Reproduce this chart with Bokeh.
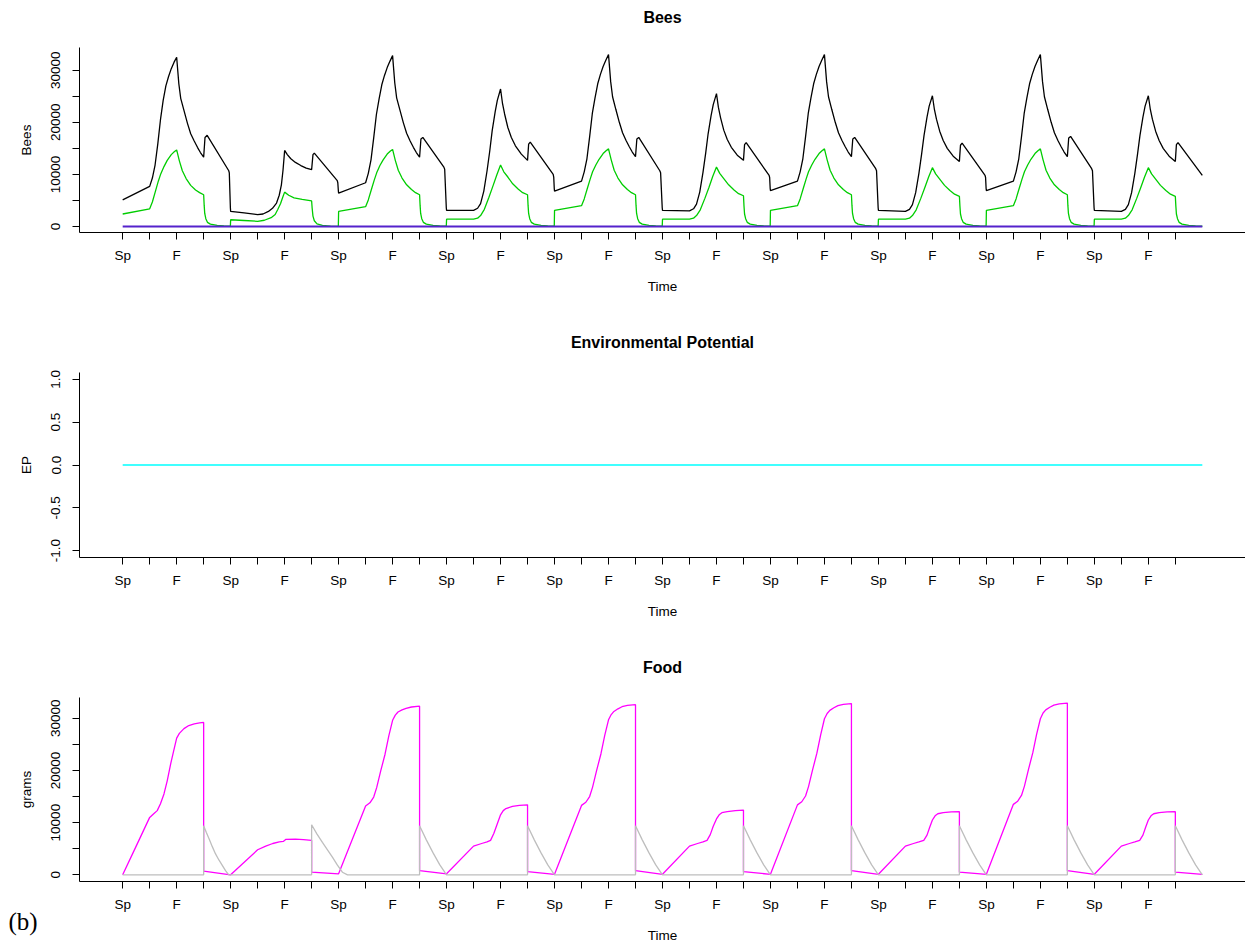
from bokeh.plotting import figure
from bokeh.layouts import column
from bokeh.models import FixedTicker, Label, Range1d, LinearAxis
from bokeh.embed import file_html
from bokeh.resources import INLINE

# ---------------- data ----------------
season_labels = ["Sp", "", "F", ""]
season_ticks = list(range(40))

bees_ticks = [0, 5000, 10000, 15000, 20000, 25000, 30000]
bees_tick_labels = ["0", "", "10000", "", "20000", "", "30000"]
ep_ticks = [-1.0, -0.5, 0.0, 0.5, 1.0]
ep_tick_labels = ["-1.0", "-0.5", "0.0", "0.5", "1.0"]

# total bees (black)
total_t = [
    0, 1, 1.1, 1.2, 1.3, 1.4, 1.5, 1.6, 1.7, 1.8, 1.9, 2, 2.08, 2.15, 2.27, 2.4, 2.52, 2.65, 2.77, 2.88, 3, 3.05, 3.13, 3.93, 3.95, 3.99,
    4, 4.5, 5, 5.2, 5.4, 5.55, 5.7, 5.8, 5.88, 5.94, 5.98, 6, 6.1, 6.23, 6.4, 6.6, 6.8, 7, 7.05, 7.1, 7.95, 7.97, 7.99,
    8, 9, 9.1, 9.2, 9.3, 9.4, 9.5, 9.6, 9.7, 9.8, 9.9, 10, 10.08, 10.15, 10.27, 10.4, 10.52, 10.65, 10.77, 10.88, 11, 11.05, 11.12, 11.9, 11.93, 11.99,
    12, 12.5, 13, 13.15, 13.26, 13.38, 13.5, 13.6, 13.69, 13.8, 13.88, 14, 14.07, 14.15, 14.27, 14.4, 14.55, 14.77, 15, 15.04, 15.1, 15.95, 15.97, 15.99,
    16, 17, 17.1, 17.2, 17.3, 17.4, 17.5, 17.6, 17.7, 17.8, 17.9, 18, 18.08, 18.15, 18.27, 18.4, 18.52, 18.65, 18.77, 18.88, 19, 19.05, 19.12, 19.9, 19.93, 19.99,
    20, 20.5, 21, 21.15, 21.26, 21.38, 21.5, 21.6, 21.69, 21.8, 21.88, 22, 22.07, 22.15, 22.27, 22.4, 22.55, 22.77, 23, 23.04, 23.1, 23.95, 23.97, 23.99,
    24, 25, 25.1, 25.2, 25.3, 25.4, 25.5, 25.6, 25.7, 25.8, 25.9, 26, 26.08, 26.15, 26.27, 26.4, 26.52, 26.65, 26.77, 26.88, 27, 27.05, 27.12, 27.9, 27.93, 27.99,
    28, 28.5, 29, 29.15, 29.26, 29.38, 29.5, 29.6, 29.69, 29.8, 29.88, 30, 30.07, 30.15, 30.27, 30.4, 30.55, 30.77, 31, 31.04, 31.1, 31.95, 31.97, 31.99,
    32, 33, 33.1, 33.2, 33.3, 33.4, 33.5, 33.6, 33.7, 33.8, 33.9, 34, 34.08, 34.15, 34.27, 34.4, 34.52, 34.65, 34.77, 34.88, 35, 35.05, 35.12, 35.9, 35.93, 35.99,
    36, 36.5, 37, 37.15, 37.26, 37.38, 37.5, 37.6, 37.69, 37.8, 37.88, 38, 38.07, 38.15, 38.27, 38.4, 38.55, 38.77, 39, 39.04, 39.1, 40,
]
total_bees = [
    5100, 7700, 9300, 11800, 15800, 20500, 24200, 27000, 28800, 30300, 31500, 32500, 27400, 24600, 22300, 19800, 17800, 16400, 15200, 14200, 13300, 17100, 17500, 10700, 10300, 3600,
    2900, 2600, 2300, 2400, 2900, 3500, 4500, 6000, 8000, 10800, 13300, 14600, 13800, 13000, 12300, 11700, 11200, 10900, 13800, 14100, 8800, 8400, 6900,
    6400, 8400, 10200, 12800, 17000, 21500, 24500, 27200, 29000, 30500, 31700, 32800, 27600, 24700, 22400, 19900, 17900, 16400, 15200, 14200, 13300, 16800, 17100, 11400, 11000, 3600,
    3100, 3100, 3100, 3500, 4400, 6800, 10700, 14500, 18400, 22000, 24200, 26400, 23700, 21600, 19000, 17100, 15500, 13900, 12700, 15800, 16200, 10000, 9500, 7300,
    6800, 8700, 10500, 13000, 17200, 21700, 24700, 27400, 29200, 30700, 31900, 33000, 27800, 24900, 22500, 20000, 18000, 16500, 15300, 14300, 13400, 16800, 17100, 10700, 10300, 3600,
    3100, 3050, 3000, 3400, 4300, 6600, 10400, 14100, 17800, 21300, 23400, 25500, 22900, 20900, 18500, 16700, 15200, 13700, 12700, 15700, 16100, 9800, 9400, 7300,
    6900, 8700, 10500, 13000, 17200, 21700, 24700, 27400, 29200, 30700, 31900, 33000, 27800, 24900, 22500, 20000, 18000, 16500, 15300, 14300, 13400, 16800, 17100, 11100, 10700, 3600,
    3100, 3000, 2900, 3300, 4200, 6500, 10200, 13900, 17500, 21000, 23100, 25100, 22600, 20600, 18300, 16500, 15000, 13500, 12500, 15600, 16000, 9800, 9400, 7300,
    6900, 8700, 10500, 13000, 17200, 21700, 24700, 27400, 29200, 30700, 31900, 33000, 27800, 24900, 22500, 20000, 18000, 16500, 15300, 14300, 13400, 17000, 17300, 11100, 10700, 3600,
    3100, 3000, 2900, 3300, 4200, 6500, 10200, 13900, 17500, 21000, 23100, 25100, 22600, 20600, 18300, 16500, 15000, 13500, 12500, 15700, 16100, 9800,
]

# adult bees (green)
green_t = [
    0, 1, 1.1, 1.22, 1.32, 1.41, 1.53, 1.65, 1.8, 1.92, 2, 2.1, 2.21, 2.35, 2.52, 2.7, 2.85, 3, 3.02, 3.04, 3.08, 3.14, 3.25, 3.5, 3.75, 3.99,
    4, 4.5, 5, 5.25, 5.5, 5.65, 5.75, 5.85, 5.93, 6, 6.15, 6.35, 6.65, 7, 7.02, 7.05, 7.1, 7.2, 7.4, 7.7, 7.99,
    8, 9, 9.1, 9.22, 9.32, 9.41, 9.53, 9.65, 9.8, 9.92, 10, 10.1, 10.21, 10.35, 10.52, 10.7, 10.85, 11, 11.02, 11.04, 11.08, 11.14, 11.25, 11.5, 11.75, 11.99,
    12, 12.5, 13, 13.15, 13.26, 13.4, 13.57, 13.72, 13.86, 14, 14.12, 14.27, 14.45, 14.65, 14.82, 15, 15.02, 15.04, 15.08, 15.14, 15.25, 15.5, 15.75, 15.99,
    16, 17, 17.1, 17.22, 17.32, 17.41, 17.53, 17.65, 17.8, 17.92, 18, 18.1, 18.21, 18.35, 18.52, 18.7, 18.85, 19, 19.02, 19.04, 19.08, 19.14, 19.25, 19.5, 19.75, 19.99,
    20, 20.5, 21, 21.15, 21.26, 21.4, 21.57, 21.72, 21.86, 22, 22.12, 22.27, 22.45, 22.65, 22.82, 23, 23.02, 23.04, 23.08, 23.14, 23.25, 23.5, 23.75, 23.99,
    24, 25, 25.1, 25.22, 25.32, 25.41, 25.53, 25.65, 25.8, 25.92, 26, 26.1, 26.21, 26.35, 26.52, 26.7, 26.85, 27, 27.02, 27.04, 27.08, 27.14, 27.25, 27.5, 27.75, 27.99,
    28, 28.5, 29, 29.15, 29.26, 29.4, 29.57, 29.72, 29.86, 30, 30.12, 30.27, 30.45, 30.65, 30.82, 31, 31.02, 31.04, 31.08, 31.14, 31.25, 31.5, 31.75, 31.99,
    32, 33, 33.1, 33.22, 33.32, 33.41, 33.53, 33.65, 33.8, 33.92, 34, 34.1, 34.21, 34.35, 34.52, 34.7, 34.85, 35, 35.02, 35.04, 35.08, 35.14, 35.25, 35.5, 35.75, 35.99,
    36, 36.5, 37, 37.15, 37.26, 37.4, 37.57, 37.72, 37.86, 38, 38.12, 38.27, 38.45, 38.65, 38.82, 39, 39.02, 39.04, 39.08, 39.14, 39.25, 39.5, 39.75, 40,
]
green_bees = [
    2400, 3400, 4700, 6900, 8700, 10100, 11500, 12700, 13800, 14400, 14700, 12600, 10700, 9200, 7900, 7000, 6500, 6100, 4000, 2500, 1500, 800, 450, 200, 100, 50,
    1300, 1150, 1000, 1200, 1700, 2300, 3300, 4400, 5600, 6600, 6000, 5500, 5200, 4900, 3500, 2000, 1100, 500, 200, 80, 30,
    2900, 3800, 5100, 7200, 8900, 10300, 11700, 12800, 13900, 14500, 14800, 12700, 10800, 9300, 8000, 7100, 6500, 6100, 4000, 2500, 1500, 800, 450, 200, 100, 50,
    1400, 1400, 1400, 1600, 2100, 3300, 5600, 7800, 9900, 11800, 10500, 9500, 8200, 7200, 6500, 6100, 4000, 2500, 1500, 800, 450, 200, 100, 50,
    3100, 4000, 5300, 7400, 9100, 10500, 11800, 12900, 14000, 14600, 14900, 12800, 10800, 9300, 8000, 7100, 6500, 6100, 4000, 2500, 1500, 800, 450, 200, 100, 50,
    1400, 1400, 1400, 1600, 2100, 3200, 5400, 7500, 9600, 11400, 10200, 9200, 8000, 7000, 6300, 5900, 3900, 2400, 1500, 800, 450, 200, 100, 50,
    3100, 4000, 5300, 7400, 9100, 10500, 11800, 12900, 14000, 14600, 14900, 12800, 10800, 9300, 8000, 7100, 6500, 6100, 4000, 2500, 1500, 800, 450, 200, 100, 50,
    1400, 1400, 1400, 1600, 2100, 3200, 5400, 7500, 9500, 11300, 10100, 9100, 7900, 6900, 6200, 5800, 3900, 2400, 1500, 800, 450, 200, 100, 50,
    3100, 4000, 5300, 7400, 9100, 10500, 11800, 12900, 14000, 14600, 14900, 12800, 10800, 9300, 8000, 7100, 6500, 6100, 4000, 2500, 1500, 800, 450, 200, 100, 50,
    1400, 1400, 1400, 1600, 2100, 3200, 5400, 7500, 9500, 11300, 10100, 9100, 7900, 6900, 6200, 5800, 3900, 2400, 1500, 800, 450, 200, 100, 50,
]

# other bee classes (flat at zero)
brood_t = [0, 40]
brood_bees = [0, 0]

# environmental potential
ep_t = [0, 40]
ep_values = [0, 0]

# food stores (magenta)
food_t = [
    0, 0.5, 1, 1.15, 1.28, 1.4, 1.53, 1.65, 1.78, 1.9, 2, 2.1, 2.27, 2.45, 2.65, 2.85, 3, 3,
    4, 5, 5.3, 5.56, 5.8, 5.95, 6.05, 6.4, 6.7, 7, 7,
    8, 9, 9.16, 9.3, 9.41, 9.56, 9.72, 9.86, 10, 10.1, 10.2, 10.35, 10.5, 10.7, 11, 11,
    12, 13, 13.3, 13.5, 13.63, 13.75, 13.88, 14, 14.1, 14.2, 14.44, 14.7, 15, 15,
    16, 17, 17.16, 17.3, 17.41, 17.56, 17.72, 17.86, 18, 18.1, 18.2, 18.35, 18.5, 18.7, 19, 19,
    20, 21, 21.3, 21.5, 21.65, 21.77, 21.88, 22, 22.1, 22.2, 22.4, 22.7, 23, 23,
    24, 25, 25.16, 25.3, 25.41, 25.56, 25.72, 25.86, 26, 26.1, 26.2, 26.35, 26.5, 26.7, 27, 27,
    28, 29, 29.3, 29.5, 29.68, 29.8, 29.9, 30, 30.1, 30.2, 30.4, 30.7, 31, 31,
    32, 33, 33.16, 33.3, 33.41, 33.56, 33.72, 33.86, 34, 34.1, 34.2, 34.35, 34.5, 34.7, 35, 35,
    36, 37, 37.3, 37.5, 37.68, 37.8, 37.9, 38, 38.1, 38.2, 38.4, 38.7, 39, 39, 40,
]
food_stores = [
    0, 5500, 11000, 11700, 12300, 13600, 15500, 18000, 21300, 24000, 26200, 27100, 28000, 28600, 28900, 29100, 29200, 700,
    0, 4800, 5500, 6000, 6300, 6400, 6800, 6850, 6750, 6600, 500,
    200, 13200, 13800, 14900, 16700, 19900, 23100, 26600, 29600, 30600, 31200, 31600, 31900, 32150, 32300, 800,
    200, 5500, 6000, 6300, 6600, 7900, 9800, 11500, 12300, 12700, 13100, 13300, 13400, 600,
    100, 13300, 13900, 15000, 16800, 20000, 23200, 26700, 29700, 30700, 31300, 31800, 32200, 32450, 32600, 800,
    100, 5500, 6000, 6300, 6600, 7700, 9300, 10700, 11500, 11900, 12100, 12300, 12400, 600,
    100, 13400, 14000, 15100, 16900, 20100, 23300, 26800, 29900, 30900, 31500, 32000, 32400, 32650, 32800, 800,
    100, 5500, 6000, 6300, 6600, 7600, 9100, 10500, 11300, 11700, 11900, 12050, 12100, 500,
    100, 13500, 14100, 15200, 17000, 20200, 23400, 26900, 29900, 31000, 31600, 32100, 32500, 32750, 32900, 800,
    100, 5500, 6000, 6300, 6600, 7600, 9100, 10500, 11300, 11700, 11900, 12050, 12100, 500, 100,
]

# food in transit (grey)
food2_t = [
    0, 3, 3, 3.1, 3.2, 3.32, 3.44, 3.57, 3.69, 3.81, 3.93,
    7, 7, 7.2, 7.4, 7.6, 7.77, 7.95, 8.14, 8.33,
    11, 11, 11.25, 11.5, 11.75, 12,
    15, 15, 15.25, 15.5, 15.75, 16,
    19, 19, 19.25, 19.5, 19.75, 20,
    23, 23, 23.25, 23.5, 23.75, 24,
    27, 27, 27.25, 27.5, 27.75, 28,
    31, 31, 31.25, 31.5, 31.75, 32,
    35, 35, 35.25, 35.5, 35.75, 36,
    39, 39, 39.25, 39.5, 39.75, 40,
]
food2_values = [
    0, 0, 9400, 8100, 6900, 5400, 4000, 2800, 1800, 800, 0,
    0, 9600, 7800, 6200, 4700, 3400, 1900, 500, 0,
    0, 9400, 6700, 4200, 1900, 0,
    0, 9400, 6700, 4200, 1900, 0,
    0, 9400, 6700, 4200, 1900, 0,
    0, 9400, 6700, 4200, 1900, 0,
    0, 9400, 6700, 4200, 1900, 0,
    0, 9400, 6700, 4200, 1900, 0,
    0, 9400, 6700, 4200, 1900, 0,
    0, 9400, 6700, 4200, 1900, 0,
]

# ---------------- styling helpers ----------------
FONT = "Liberation Sans"
W = 1245
X_RANGE = (-1.6, 41.6)


def make_panel(title, ylabel, y_range, yticks, ylabels, height, bottom):
    p = figure(width=W, height=height, output_backend="svg", toolbar_location=None,
               x_range=Range1d(*X_RANGE), y_range=Range1d(*y_range),
               min_border_left=79, min_border_right=0, min_border_top=47,
               min_border_bottom=bottom)
    p.title.text = ""
    p.outline_line_color = None
    p.grid.visible = False
    p.background_fill_color = "white"
    p.border_fill_color = "white"

    xa = p.below[0]
    ya = p.left[0]

    # panel title drawn as the label of an empty axis above the frame
    ta = LinearAxis(ticker=FixedTicker(ticks=[]), axis_label=title,
                    axis_line_color=None, major_tick_line_color=None,
                    minor_tick_line_color=None, major_tick_in=0, major_tick_out=0,
                    major_label_standoff=0, axis_label_standoff=22,
                    axis_label_text_font=FONT, axis_label_text_font_size="16px",
                    axis_label_text_font_style="bold", axis_label_text_color="black")
    p.add_layout(ta, "above")

    xa.ticker = FixedTicker(ticks=season_ticks)
    xa.major_label_overrides = {t: season_labels[i % 4] for i, t in enumerate(season_ticks)}
    xa.axis_label = "Time"
    ya.ticker = FixedTicker(ticks=yticks)
    ya.major_label_overrides = {t: l for t, l in zip(yticks, ylabels)}
    ya.axis_label = ylabel
    ya.major_label_orientation = "vertical"
    for ax in (xa, ya):
        ax.axis_line_color = "black"
        ax.axis_line_width = 1
        ax.major_tick_line_color = "black"
        ax.major_tick_in = 0
        ax.major_tick_out = 7
        ax.minor_tick_line_color = None
        ax.major_label_text_font = FONT
        ax.major_label_text_font_size = "13.5px"
        ax.major_label_text_color = "black"
        ax.axis_label_text_font = FONT
        ax.axis_label_text_font_size = "13.5px"
        ax.axis_label_text_font_style = "normal"
        ax.axis_label_text_color = "black"
    xa.major_label_standoff = 8
    xa.axis_label_standoff = 13
    ya.major_label_standoff = 12
    ya.axis_label_standoff = 15
    return p


p1 = make_panel("Bees", "Bees", (-1150, 34360), bees_ticks, bees_tick_labels, 325, 93)
p1.line(total_t, total_bees, line_color="black", line_width=1.3)
p1.line(green_t, green_bees, line_color="#00cd00", line_width=1.3)
p1.line(brood_t, brood_bees, line_color="#5522cc", line_width=2.2)

p2 = make_panel("Environmental Potential", "EP", (-1.08, 1.08), ep_ticks, ep_tick_labels, 325, 93)
p2.line(ep_t, ep_values, line_color="#00ffff", line_width=1.3)

# the last panel is taller than the window; its lower strip falls outside the picture
p3 = make_panel("Food", "grams", (-1280, 33970), bees_ticks, bees_tick_labels, 322, 90)
p3.line(food_t, food_stores, line_color="#ff00ff", line_width=1.3)
p3.line(food2_t, food2_values, line_color="#bebebe", line_width=1.3)
p3.add_layout(Label(x=-71, y=51, x_units="screen", y_units="screen", text="(b)",
                    text_font="Liberation Serif", text_font_size="25px",
                    text_baseline="middle", text_align="left", text_color="black"), "below")

layout = column(p1, p2, p3, spacing=0)
open("out.html", "w").write(file_html(layout, INLINE))
